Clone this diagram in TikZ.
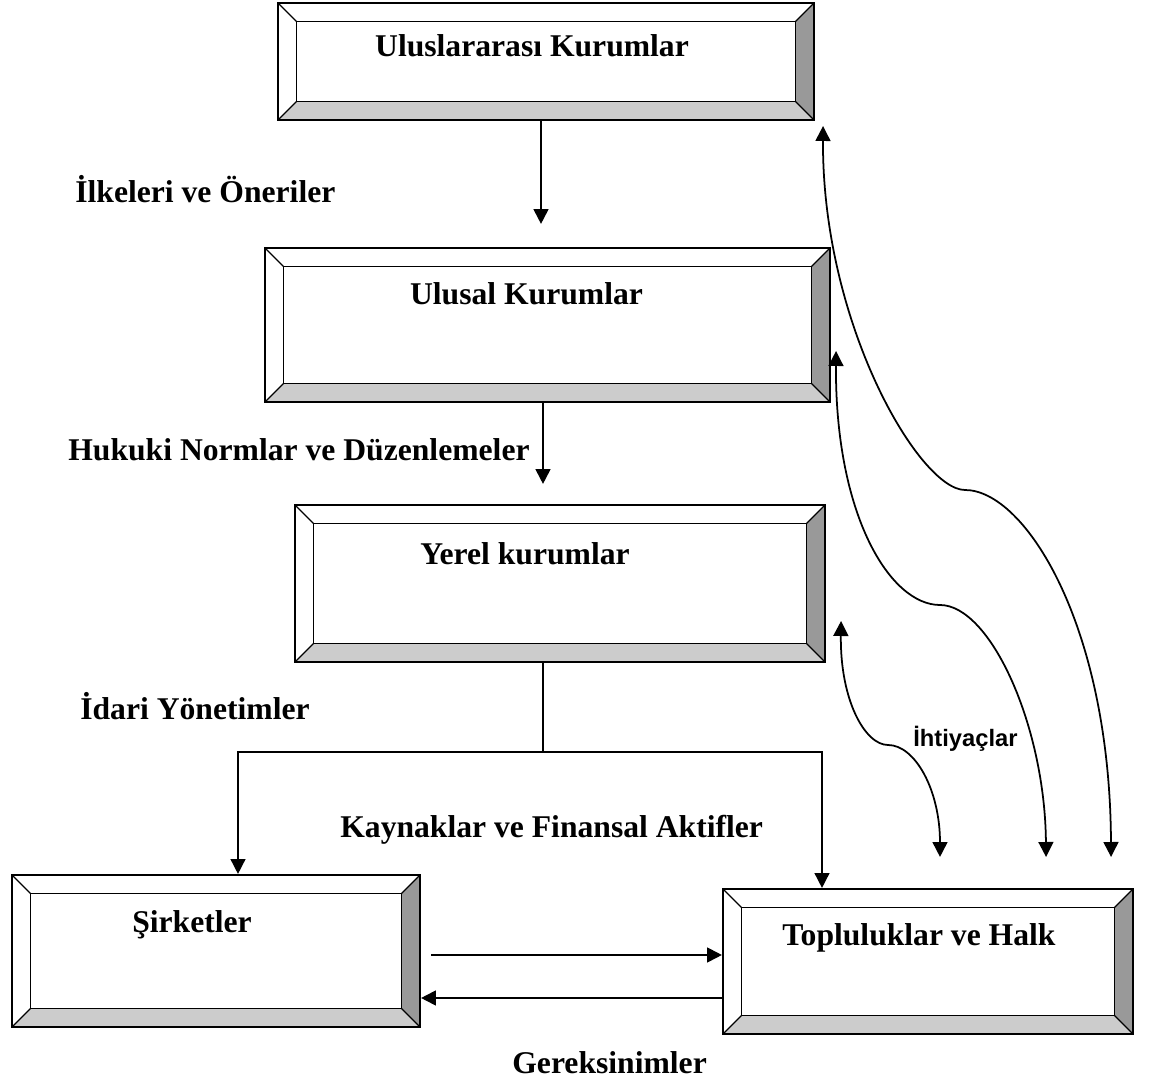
\documentclass[tikz,border=0pt]{standalone}
\usepackage{fontspec}
\setmainfont{Liberation Serif}
\newfontfamily\labelsans{Liberation Sans}
\usetikzlibrary{arrows.meta,calc}
\definecolor{bevdark}{HTML}{999999}
\definecolor{bevlight}{HTML}{CCCCCC}
\newcommand\bevw{0.37cm}

\begin{document}
\begin{tikzpicture}[
    bevelbox/.style={draw,line width=1.2pt,inner sep=0pt,text height=0.4cm,
        font=\fontsize{18}{21}\selectfont\bfseries,
        path picture={
            \coordinate (pa) at (path picture bounding box.south west);
            \coordinate (pb) at (path picture bounding box.north east);
            \fill[bevdark] (pb) -- ($(pb)+(-\bevw,-\bevw)$) -- ($(pa -| pb)+(-\bevw,\bevw)$) -- (pa -| pb) -- cycle;
            \fill[bevlight] (pa) -- (pa -| pb) -- ($(pa -| pb)+(-\bevw,\bevw)$) -- ($(pa)+(\bevw,\bevw)$) -- cycle;
            \draw[line width=1pt] ($(pa)+(\bevw,\bevw)$) rectangle ($(pb)+(-\bevw,-\bevw)$);
            \draw[line width=0.7pt] (pa) -- ++(\bevw,\bevw) (pb) -- ++(-\bevw,-\bevw)
                (pa -| pb) -- ++(-\bevw,\bevw) (pa |- pb) -- ++(\bevw,-\bevw);
        }},
    lbl/.style={anchor=base west,inner sep=0pt,font=\fontsize{18}{21}\selectfont\bfseries},
    flow/.style={line width=1.1pt},
    tree/.style={line width=0.9pt},
    curve/.style={line width=1pt},
    >={Triangle[length=8.5pt,width=8.5pt]},
]
    \useasboundingbox (0,0) rectangle (23.14,-21.72);

    % boxes
    \node[bevelbox,minimum width=10.72cm,minimum height=2.34cm,text depth=0.58cm] (intl) at (10.92,-1.23) {Uluslararası Kurumlar\hspace*{0.56cm}};
    \node[bevelbox,minimum width=11.3cm,minimum height=3.08cm,text depth=1.2cm] (natl) at (10.95,-6.5) {Ulusal Kurumlar\hspace*{0.84cm}};
    \node[bevelbox,minimum width=10.6cm,minimum height=3.14cm,text depth=1.14cm] (locl) at (11.2,-11.67) {Yerel kurumlar\hspace*{1.4cm}};
    \node[bevelbox,minimum width=8.16cm,minimum height=3.04cm,text depth=1.12cm] (firm) at (4.32,-19.02) {Şirketler\hspace*{0.96cm}};
    \node[bevelbox,minimum width=8.2cm,minimum height=2.9cm,text depth=1.02cm] (comm) at (18.56,-19.23) {Topluluklar ve Halk\hspace*{0.36cm}};

    % labels
    \node[lbl] (ilke) at (1.5,-4.06) {İlkeleri ve Öneriler};
    \node[lbl] (hukuk) at (1.36,-9.22) {Hukuki Normlar ve Düzenlemeler};
    \node[lbl] (idari) at (1.6,-14.4) {İdari Yönetimler};
    \node[lbl] (kaynak) at (6.8,-16.76) {Kaynaklar ve Finansal Aktifler};
    \node[lbl] (gerek) at (10.24,-21.46) {Gereksinimler};
    \node[anchor=base west,inner sep=0pt,font=\labelsans\fontsize{13.5}{16}\selectfont\bfseries] (ihtiyac) at (18.26,-14.94) {İhtiyaçlar};

    % downward flow
    \draw[->,flow,shorten >=0.46cm] ([xshift=-0.1cm]intl.south) -- ([xshift=-0.1cm]intl.south |- natl.north);
    \draw[->,flow,shorten >=0.4cm] ([xshift=-0.09cm]natl.south) -- ([xshift=-0.09cm]natl.south |- locl.north);

    \coordinate (fork) at (10.86,-15.04);
    \coordinate (forkl) at (4.76,-15.04);
    \coordinate (forkr) at (16.44,-15.04);
    \draw[tree] (fork |- locl.south) -- (fork);
    \draw[->,tree] (fork) -- (forkl) -- (forkl |- firm.north);
    \draw[->,tree] (fork) -- (forkr) -- (forkr |- comm.north);

    % exchange between firms and public
    \draw[->,flow,shorten <=0.2cm] ([yshift=-0.08cm]firm.east) -- ([yshift=0.13cm]comm.west);
    \draw[->,flow] ([yshift=-0.73cm]comm.west) -- ([yshift=-0.94cm]firm.east);

    % needs going back up
    \coordinate (bend1) at (19.3,-9.8);
    \coordinate (bend2) at (18.8,-12.1);
    \coordinate (bend3) at (17.76,-14.9);
    \draw[<->,curve] ([shift={(0.16,-0.1)}]intl.south east) .. controls (16.44,-6.5) and (18.4,-9.8) .. (bend1)
        .. controls (20.5,-9.8) and (22.2,-12.5) .. ([shift={(-0.46,0.62)}]comm.north east);
    \draw[<->,curve] ([shift={(0.1,1.04)}]natl.south east) .. controls (16.7,-10.3) and (17.8,-12.1) .. (bend2)
        .. controls (19.8,-12.1) and (20.9,-14.5) .. ([shift={(-1.76,0.62)}]comm.north east);
    \draw[<->,curve] ([shift={(0.3,0.84)}]locl.south east) .. controls (16.8,-14.0) and (17.3,-14.9) .. (bend3)
        .. controls (18.3,-14.9) and (18.8,-15.8) .. ([shift={(0.24,0.62)}]comm.north);
\end{tikzpicture}
\end{document}
